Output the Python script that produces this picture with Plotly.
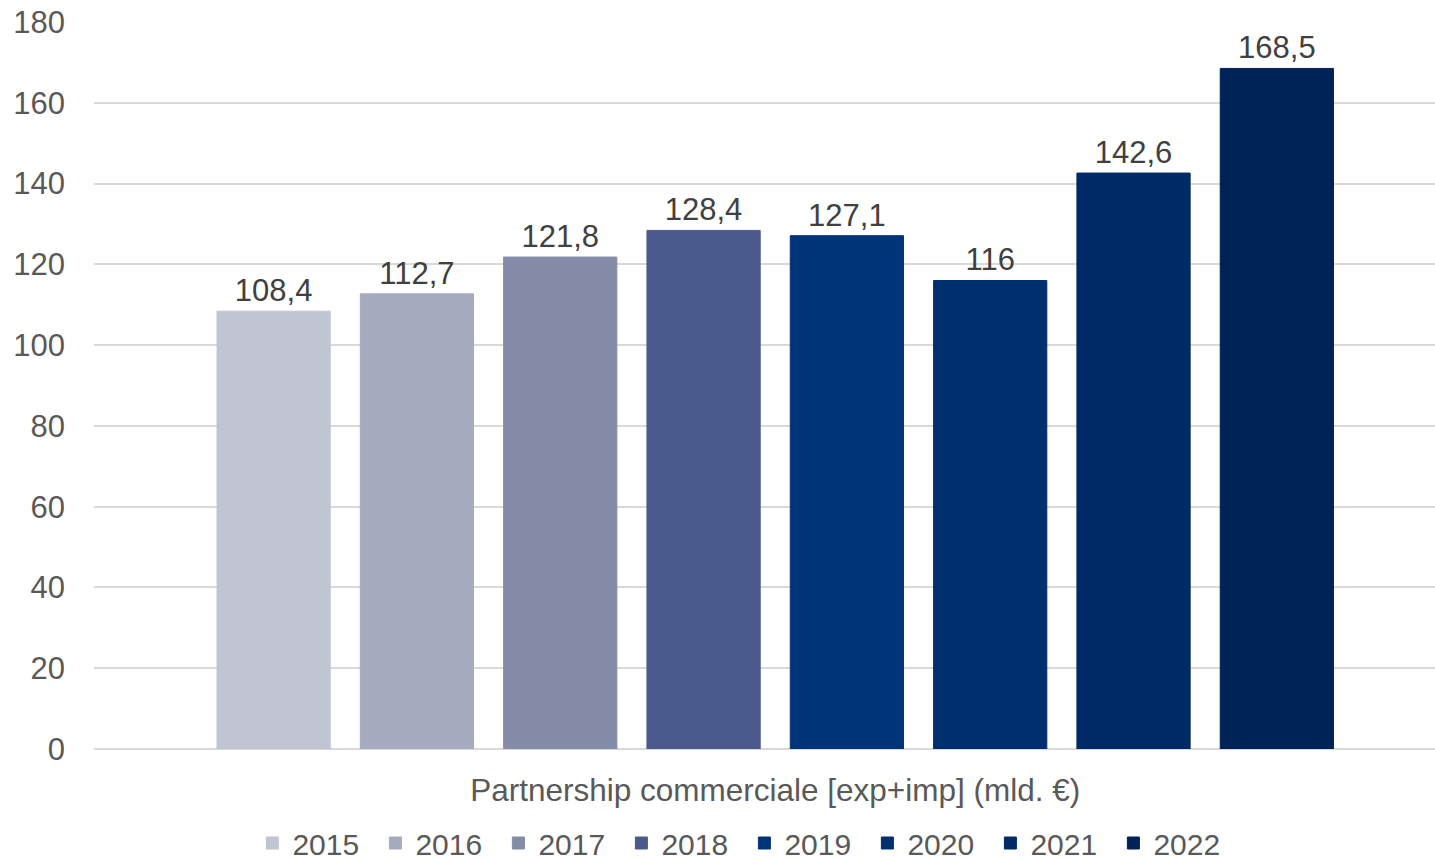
import plotly.graph_objects as go

category = "Partnership commerciale [exp+imp] (mld. €)"
years = ["2015", "2016", "2017", "2018", "2019", "2020", "2021", "2022"]
values = [108.4, 112.7, 121.8, 128.4, 127.1, 116, 142.6, 168.5]
colors = ["#C1C5D3", "#A5AABE", "#858CA8", "#4A5A8D",
          "#003479", "#002F6F", "#002A66", "#002357"]

def fmt(v):
    s = ("%.1f" % v).replace(".", ",")
    return s[:-2] if s.endswith(",0") else s

fig = go.Figure()
for y, v, c in zip(years, values, colors):
    fig.add_trace(go.Bar(
        name=y, x=[category], y=[v], marker=dict(color=c, line=dict(color=c, width=1)),
        text=[fmt(v)], textposition="outside", cliponaxis=False,
        textfont=dict(family="Liberation Sans, Arial", size=31, color="#404040"),
    ))

fig.update_layout(
    width=1435, height=860,
    margin=dict(l=94, r=0, t=22, b=111, autoexpand=False),
    paper_bgcolor="white", plot_bgcolor="white",
    barmode="group", bargap=0.145, bargroupgap=0.21,
    font=dict(family="Liberation Sans, Arial", color="#595959"),
    showlegend=True,
    legend=dict(orientation="h", x=0.485, xanchor="center",
                yref="container", y=17 / 860, yanchor="middle",
                font=dict(size=30, color="#595959"),
                entrywidth=78, entrywidthmode="pixels",
                traceorder="normal"),
)
fig.update_xaxes(range=[-0.508, 0.492], showgrid=False, showline=False,
                 tickfont=dict(size=31.5, color="#595959"), ticks="",
                 ticklabelstandoff=19)
fig.update_yaxes(range=[0, 180], dtick=20, showgrid=True, gridcolor="#D9D9D9",
                 gridwidth=1.5, zeroline=True, zerolinecolor="#D9D9D9", zerolinewidth=1.5,
                 tickfont=dict(size=31, color="#595959"), ticklabelstandoff=28)

fig.write_html("out.html")
